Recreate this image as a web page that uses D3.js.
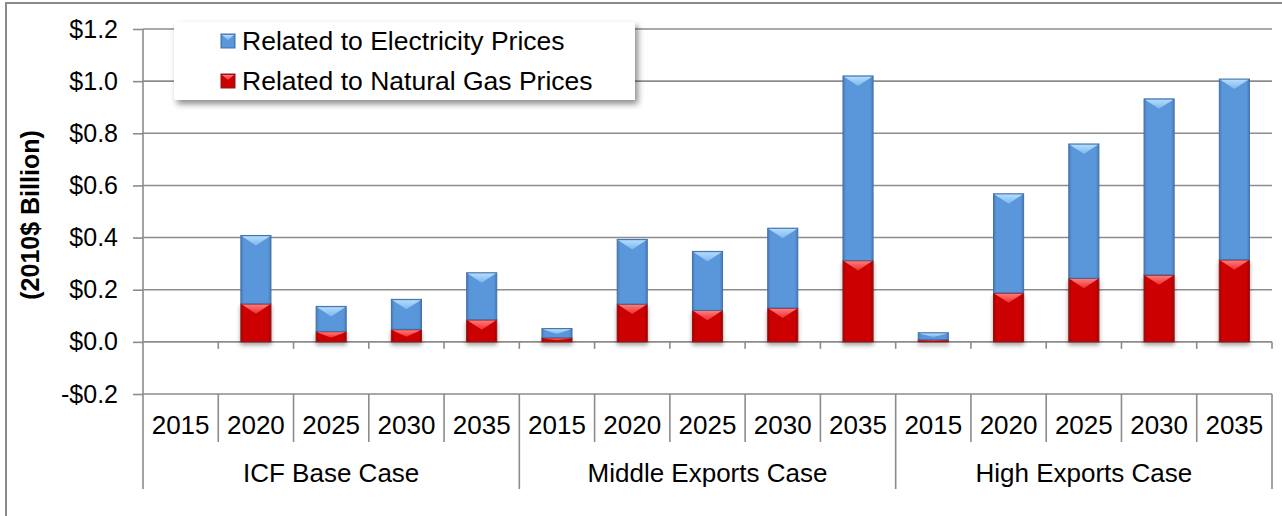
<!DOCTYPE html>
<html><head><meta charset="utf-8">
<script src="https://cdn.jsdelivr.net/npm/d3@7"></script>
<style>html,body{margin:0;padding:0;background:#fff}svg{display:block;font-family:"Liberation Sans",Arial,sans-serif}</style>
</head><body><svg id="c" width="1282" height="516"></svg>
<script>
const groups = ["ICF Base Case", "Middle Exports Case", "High Exports Case"];
const years = ["2015", "2020", "2025", "2030", "2035"];
const gasValues  = [0, 0.146, 0.040, 0.048, 0.085, 0.016, 0.145, 0.121, 0.130, 0.312, 0.008, 0.188, 0.244, 0.257, 0.315];
const elecValues = [0, 0.262, 0.096, 0.115, 0.180, 0.035, 0.248, 0.226, 0.306, 0.708, 0.027, 0.380, 0.515, 0.675, 0.693];
const seriesNames = ["Related to Electricity Prices", "Related to Natural Gas Prices"];
const yTicks = [-0.2, 0.0, 0.2, 0.4, 0.6, 0.8, 1.0, 1.2];
const yTitle = "(2010$ Billion)";

const svg = d3.select("#c");
const L = 143, R = 1272, T = 29, B = 394;
const FS = 25, FS2 = 26;

const rows = [];
groups.forEach((g, gi) => years.forEach((yr, yi) => {
  const i = gi * years.length + yi;
  rows.push({key: g + "|" + yr, group: g, year: yr, gas: gasValues[i], elec: elecValues[i]});
}));

const x = d3.scaleBand().domain(rows.map(d => d.key)).range([L, R]).paddingInner(0.6).paddingOuter(0.3);
const step = x.step();
const y = d3.scaleLinear().domain([-0.2, 1.2]).range([B, T]);

// defs
const defs = svg.append("defs");
function hGrad(id, edge, mid) {
  const g = defs.append("linearGradient").attr("id", id).attr("x1", 0).attr("x2", 1).attr("y1", 0).attr("y2", 0);
  [[0, edge], [0.1, mid], [0.9, mid], [1, edge]].forEach(s => g.append("stop").attr("offset", s[0]).attr("stop-color", s[1]));
}
hGrad("gBlue", "#477cbd", "#5a96da");
hGrad("gRed", "#a30000", "#cc0000");
function vGrad(id, top, bot) {
  const g = defs.append("linearGradient").attr("id", id).attr("x1", 0).attr("x2", 0).attr("y1", 0).attr("y2", 1);
  g.append("stop").attr("offset", 0).attr("stop-color", top);
  g.append("stop").attr("offset", 1).attr("stop-color", bot);
}
vGrad("tBlue", "#b4dcfc", "#7db6ee");
vGrad("tRed", "#ff7a7a", "#ee3030");
const f = defs.append("filter").attr("id", "shadow").attr("x", "-20%").attr("y", "-20%").attr("width", "150%").attr("height", "150%");
f.append("feDropShadow").attr("dx", 0).attr("dy", 3).attr("stdDeviation", 2).attr("flood-color", "#000").attr("flood-opacity", 0.35);
const f2 = defs.append("filter").attr("id", "lshadow").attr("x", "-10%").attr("y", "-30%").attr("width", "130%").attr("height", "180%");
f2.append("feDropShadow").attr("dx", 3).attr("dy", 4).attr("stdDeviation", 3).attr("flood-color", "#000").attr("flood-opacity", 0.45);

// outer border
svg.append("rect").attr("x", 6).attr("y", 3).attr("width", 1400).attr("height", 700)
  .attr("fill", "none").attr("stroke", "#8a8a8a").attr("stroke-width", 2);

const gridColor = "#8c8c8c";
// gridlines
svg.append("g").selectAll("line").data(yTicks).join("line")
  .attr("x1", L).attr("x2", R).attr("y1", d => y(d)).attr("y2", d => y(d))
  .attr("stroke", gridColor).attr("stroke-width", 1.6);

// y axis
const yAxis = d3.axisLeft(y).tickValues(yTicks).tickSize(10).tickPadding(15)
  .tickFormat(v => (v < 0 ? "-$" : "$") + Math.abs(v).toFixed(1));
const ya = svg.append("g").attr("transform", `translate(${L},0)`).call(yAxis);
ya.select(".domain").remove();
ya.selectAll(".tick line").attr("stroke", gridColor).attr("stroke-width", 1.6);
ya.selectAll(".tick text").attr("font-size", FS).attr("font-family", '"Liberation Sans",Arial,sans-serif').attr("fill", "#000");
svg.append("line").attr("x1", L).attr("x2", L).attr("y1", T).attr("y2", 489).attr("stroke", gridColor).attr("stroke-width", 1.6);

// category ticks on zero line
const bounds = d3.range(1, rows.length + 1).map(i => L + i * step);
svg.append("g").selectAll("line").data(bounds).join("line")
  .attr("x1", d => d).attr("x2", d => d).attr("y1", y(0)).attr("y2", y(0) + 7)
  .attr("stroke", gridColor).attr("stroke-width", 1.6);

// bottom category axis separators
svg.append("g").selectAll("line").data(d3.range(1, rows.length)).join("line")
  .attr("x1", i => L + i * step).attr("x2", i => L + i * step)
  .attr("y1", B).attr("y2", i => i % years.length === 0 ? 489 : 442)
  .attr("stroke", gridColor).attr("stroke-width", 1.6);
svg.append("line").attr("x1", R).attr("x2", R).attr("y1", B).attr("y2", 489).attr("stroke", gridColor).attr("stroke-width", 1.6);

// year labels
svg.append("g").selectAll("text").data(rows).join("text")
  .attr("x", d => x(d.key) + x.bandwidth() / 2).attr("y", 434)
  .attr("text-anchor", "middle").attr("font-size", FS2).text(d => d.year);
// group labels
svg.append("g").selectAll("text").data(groups).join("text")
  .attr("x", (g, gi) => L + (gi * years.length + years.length / 2) * step).attr("y", 482)
  .attr("text-anchor", "middle").attr("font-size", FS2).text(d => d);

// y title
svg.append("text").attr("transform", "translate(39,215) rotate(-90)").attr("text-anchor", "middle")
  .attr("font-size", 25).attr("font-weight", "bold").text(yTitle);

// stacked bars
const stack = d3.stack().keys(["gas", "elec"]);
const layers = stack(rows);
const styles = {
  gas: {fill: "url(#gRed)", top: "url(#tRed)", stroke: "#8e1a1a"},
  elec: {fill: "url(#gBlue)", top: "url(#tBlue)", stroke: "#4470a5"}
};
const barG = svg.append("g");
layers.forEach(layer => {
  const st = styles[layer.key];
  const lg = barG.append("g").attr("filter", layer.key === "gas" ? "url(#shadow)" : null);
  layer.forEach(seg => {
    const v0 = seg[0], v1 = seg[1];
    if (Math.abs(v1 - v0) < 1e-9) return;
    const x0 = x(seg.data.key), w = x.bandwidth();
    const yt = y(Math.max(v0, v1)), yb = y(Math.min(v0, v1));
    const h = yb - yt;
    lg.append("rect").attr("x", x0).attr("y", yt).attr("width", w).attr("height", h)
      .attr("fill", st.fill).attr("stroke", st.stroke).attr("stroke-width", 1);
    const dpt = Math.min(10, h * 0.6);
    lg.append("path")
      .attr("d", `M${x0 + 1},${yt + 0.8} L${x0 + w - 1},${yt + 0.8} L${x0 + w / 2},${yt + dpt} Z`)
      .attr("fill", st.top);
  });
});

// legend
const lg = svg.append("g");
lg.append("rect").attr("x", 174).attr("y", 22).attr("width", 461).attr("height", 78)
  .attr("fill", "#fff").attr("filter", "url(#lshadow)");
const legItems = [
  {name: seriesNames[0], fill: "url(#gBlue)", top: "url(#tBlue)", stroke: "#4470a5", y: 34},
  {name: seriesNames[1], fill: "url(#gRed)", top: "url(#tRed)", stroke: "#8e1a1a", y: 74}
];
legItems.forEach(it => {
  lg.append("rect").attr("x", 221).attr("y", it.y).attr("width", 14).attr("height", 14)
    .attr("fill", it.fill).attr("stroke", it.stroke).attr("stroke-width", 1);
  lg.append("path").attr("d", `M222,${it.y + 1} L234,${it.y + 1} L228,${it.y + 6} Z`).attr("fill", it.top);
  lg.append("text").attr("x", 242).attr("y", it.y + 16).attr("font-size", FS2 + 0.5).text(it.name);
});
</script></body></html>
